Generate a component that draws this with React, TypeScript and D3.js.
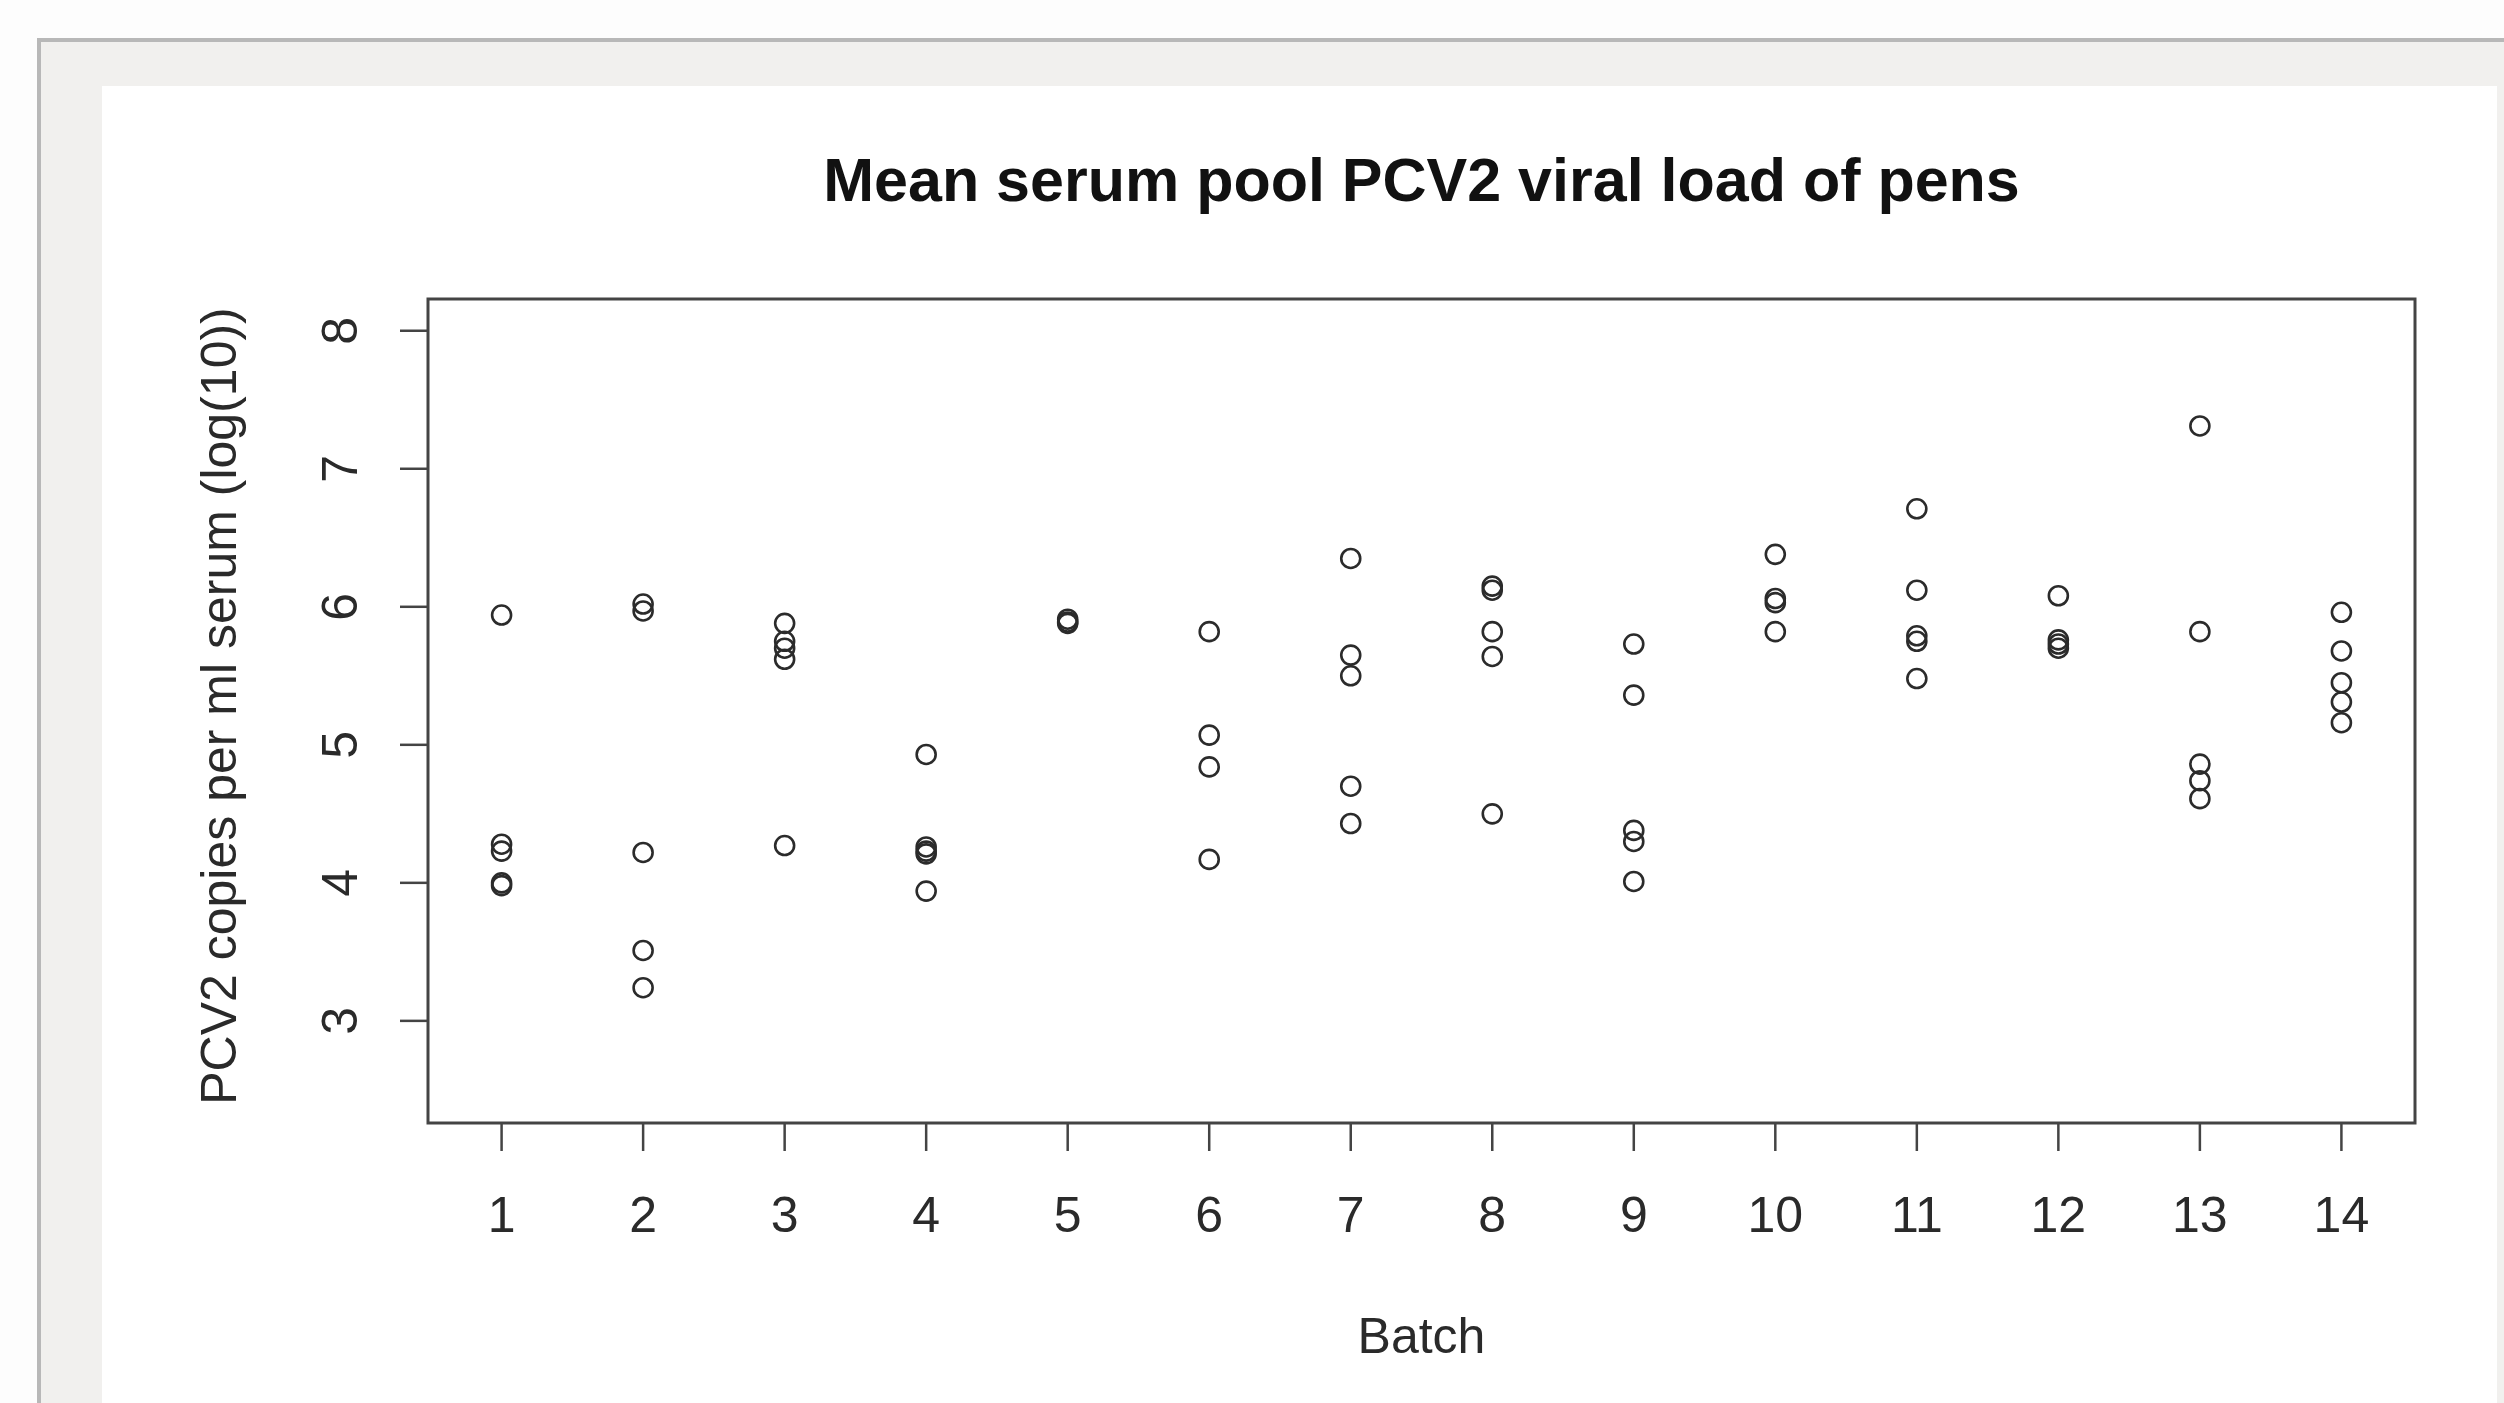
import React, { useEffect, useRef } from 'react';
import * as d3 from 'd3';

// Batch numbers on the x axis
const batches = [1, 2, 3, 4, 5, 6, 7, 8, 9, 10, 11, 12, 13, 14];

// Mean serum pool PCV2 viral load per pen, log10 copies/ml, one list per batch
const penLoads: number[][] = [
  [5.94, 4.28, 4.23, 4.0, 3.98],
  [6.02, 5.97, 4.22, 3.51, 3.24],
  [5.88, 5.75, 5.7, 5.62, 4.27],
  [4.93, 4.26, 4.23, 4.21, 3.94],
  [5.91, 5.89, 5.88],
  [5.82, 5.07, 4.84, 4.17],
  [6.35, 5.65, 5.5, 4.7, 4.43],
  [6.15, 6.12, 5.82, 5.64, 4.5],
  [5.73, 5.36, 4.38, 4.3, 4.01],
  [6.38, 6.06, 6.03, 5.82],
  [6.71, 6.12, 5.79, 5.75, 5.48],
  [6.08, 5.76, 5.73, 5.7],
  [7.31, 5.82, 4.86, 4.74, 4.61],
  [5.96, 5.68, 5.45, 5.31, 5.16],
];

const yTicks = [3, 4, 5, 6, 7, 8];

const W = 2504;
const H = 1403;

const ScatterChart: React.FC = () => {
  const svgRef = useRef<SVGSVGElement>(null);

  useEffect(() => {
    if (!svgRef.current) return;
    const svg = d3.select(svgRef.current);
    svg.selectAll('*').remove();

    const font = 'Liberation Sans, Arial, sans-serif';
    const box = { left: 428, right: 2415, top: 299, bottom: 1123 };

    // page frame
    svg.append('rect').attr('width', W).attr('height', H).attr('fill', '#fdfdfd');
    svg.append('rect')
      .attr('x', 39).attr('y', 40).attr('width', W).attr('height', H)
      .attr('fill', '#f1f0ee').attr('stroke', '#b8b8b8').attr('stroke-width', 4);
    svg.append('rect')
      .attr('x', 102).attr('y', 86).attr('width', 2395).attr('height', H)
      .attr('fill', '#ffffff');

    const x = d3.scaleLinear().domain([0.48, 14.52]).range([box.left, box.right]);
    const y = d3.scaleLinear().domain([2.26, 8.23]).range([box.bottom, box.top]);

    // title
    svg.append('text')
      .attr('x', (box.left + box.right) / 2).attr('y', 201)
      .attr('text-anchor', 'middle')
      .style('font-family', font).style('font-size', '61px').style('font-weight', 'bold')
      .attr('fill', '#111')
      .text('Mean serum pool PCV2 viral load of pens');

    // x axis
    const xAxis = svg.append('g');
    xAxis.selectAll('line').data(batches).join('line')
      .attr('x1', d => x(d)).attr('x2', d => x(d))
      .attr('y1', box.bottom).attr('y2', box.bottom + 28)
      .attr('stroke', '#444').attr('stroke-width', 2.5);
    xAxis.selectAll('text').data(batches).join('text')
      .attr('x', d => x(d)).attr('y', 1232)
      .attr('text-anchor', 'middle')
      .style('font-family', font).style('font-size', '50px')
      .attr('fill', '#2a2a2a')
      .text(d => d);

    // y axis
    const yAxis = svg.append('g');
    yAxis.selectAll('line').data(yTicks).join('line')
      .attr('x1', box.left - 28).attr('x2', box.left)
      .attr('y1', d => y(d)).attr('y2', d => y(d))
      .attr('stroke', '#444').attr('stroke-width', 2.5);
    yAxis.selectAll('text').data(yTicks).join('text')
      .attr('transform', d => `translate(357,${y(d)}) rotate(-90)`)
      .attr('text-anchor', 'middle')
      .style('font-family', font).style('font-size', '50px')
      .attr('fill', '#2a2a2a')
      .text(d => d);

    // axis titles
    svg.append('text')
      .attr('x', (box.left + box.right) / 2).attr('y', 1353)
      .attr('text-anchor', 'middle')
      .style('font-family', font).style('font-size', '50px')
      .attr('fill', '#2a2a2a')
      .text('Batch');
    svg.append('text')
      .attr('transform', `translate(236,${(box.top + box.bottom) / 2 - 5}) rotate(-90)`)
      .attr('text-anchor', 'middle')
      .style('font-family', font).style('font-size', '50px')
      .attr('fill', '#2a2a2a')
      .text('PCV2 copies per ml serum (log(10))');

    // points
    const pts = batches.flatMap((b, i) => penLoads[i].map(v => ({ b, v })));
    svg.append('g').selectAll('circle').data(pts).join('circle')
      .attr('cx', d => x(d.b)).attr('cy', d => y(d.v))
      .attr('r', 9.5)
      .attr('fill', 'none').attr('stroke', '#2b2b2b').attr('stroke-width', 2.6);

    // plot box
    svg.append('rect')
      .attr('x', box.left).attr('y', box.top)
      .attr('width', box.right - box.left).attr('height', box.bottom - box.top)
      .attr('fill', 'none').attr('stroke', '#444').attr('stroke-width', 3);
  }, []);

  return (
    <svg ref={svgRef} width={W} height={H}
      style={{ position: 'absolute', left: 0, top: 0, display: 'block' }} />
  );
};

export default function App() {
  return <ScatterChart />;
}
